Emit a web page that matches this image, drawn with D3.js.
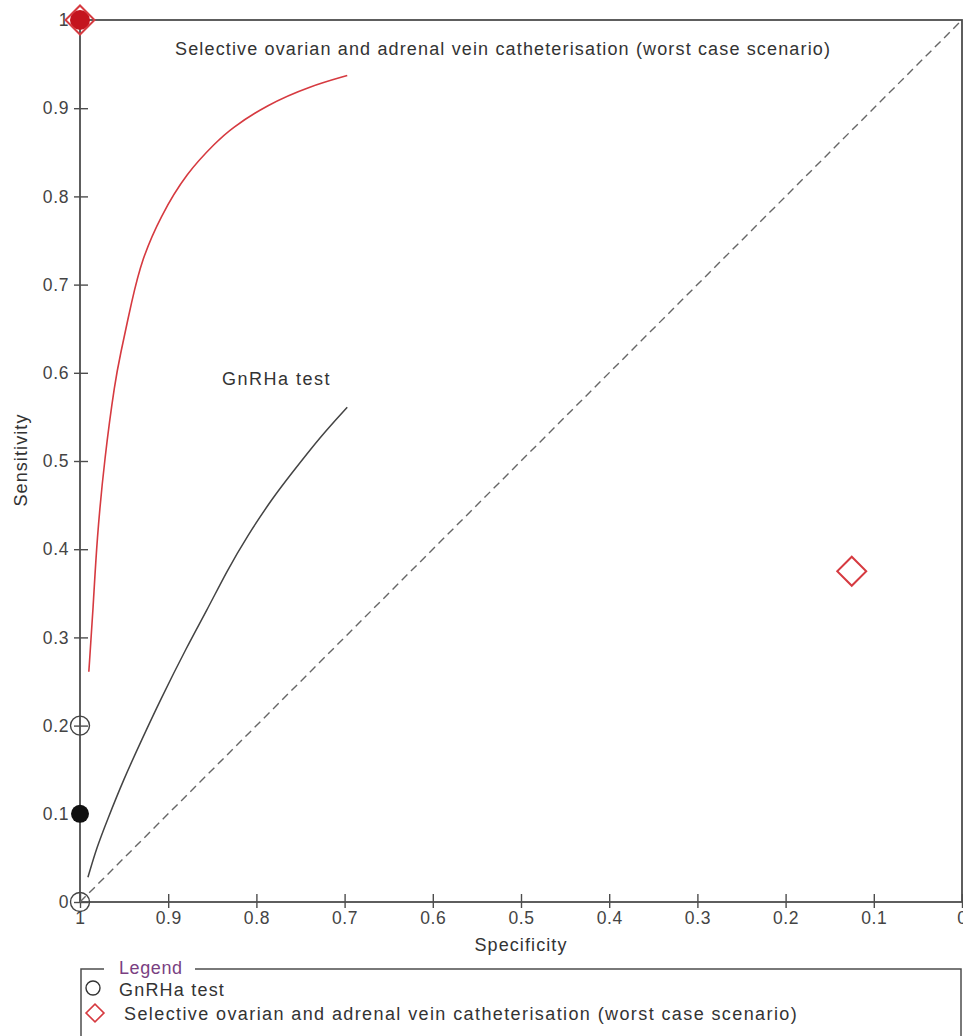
<!DOCTYPE html>
<html>
<head>
<meta charset="utf-8">
<script src="https://cdn.jsdelivr.net/npm/d3@7"></script>
<style>
  body { margin: 0; background: #fff; }
  svg { font-family: "Liberation Sans", Arial, sans-serif; }
</style>
</head>
<body>
<div id="chart"></div>
<script>
// SROC curves (specificity, sensitivity)
const redCurveSpec = [0.990, 0.985, 0.981, 0.972, 0.960, 0.955, 0.941, 0.930, 0.909, 0.879, 0.845, 0.830, 0.788, 0.739, 0.697]
const redCurveSens = [0.261, 0.334, 0.410, 0.505, 0.592, 0.617, 0.683, 0.728, 0.777, 0.827, 0.862, 0.876, 0.904, 0.925, 0.937]
const blackCurveSpec = [0.991, 0.981, 0.969, 0.951, 0.930, 0.909, 0.879, 0.856, 0.833, 0.811, 0.781, 0.760, 0.728, 0.697]
const blackCurveSens = [0.028, 0.062, 0.093, 0.138, 0.184, 0.229, 0.289, 0.331, 0.376, 0.414, 0.459, 0.486, 0.527, 0.561]

// study points
const gnrhaSpec = [1, 1]
const gnrhaSens = [0, 0.2]
const gnrhaSummarySpec = [1]
const gnrhaSummarySens = [0.1]
const svcSpec = [1, 0.125]
const svcSens = [1, 0.375]
const svcSummarySpec = [1]
const svcSummarySens = [1]

const tickValues = [0, 0.1, 0.2, 0.3, 0.4, 0.5, 0.6, 0.7, 0.8, 0.9, 1]
const tickLabels = ['0', '0.1', '0.2', '0.3', '0.4', '0.5', '0.6', '0.7', '0.8', '0.9', '1']

const legendLabels = ['GnRHa test', 'Selective ovarian and adrenal vein catheterisation (worst case scenario)']

const red = '#d63a40'
const axisColor = '#4d4d4d'
const textColor = '#333'

let svg = d3.select('#chart').append('svg')
  .attr('width', 963)
  .attr('height', 1036)

let x = d3.scaleLinear().domain([1, 0]).range([80, 962])
let y = d3.scaleLinear().domain([0, 1]).range([902, 20])

// frame
svg.append('rect')
  .attr('x', x(1)).attr('y', y(1))
  .attr('width', x(0) - x(1)).attr('height', y(0) - y(1))
  .attr('fill', 'none')
  .attr('stroke', axisColor)
  .attr('stroke-width', 1.8)

// y axis
let yAxis = svg.append('g')
  .attr('transform', 'translate(' + x(1) + ',0)')
  .call(d3.axisLeft(y).tickValues(tickValues).tickSize(8).tickPadding(3)
    .tickFormat((d, i) => tickLabels[i]))
yAxis.select('.domain').remove()
yAxis.selectAll('line').attr('stroke', axisColor).attr('stroke-width', 1.4).attr('x2', 8).attr('x1', -6)
yAxis.selectAll('text').attr('font-size', 17.5).attr('letter-spacing', 0.6)
  .attr('fill', '#444').attr('font-family', null)

// x axis
let xAxis = svg.append('g')
  .attr('transform', 'translate(0,' + y(0) + ')')
  .call(d3.axisBottom(x).tickValues(tickValues).tickSize(8).tickPadding(2)
    .tickFormat((d, i) => tickLabels[i]))
xAxis.select('.domain').remove()
xAxis.selectAll('line').attr('stroke', axisColor).attr('stroke-width', 1.4).attr('y1', -8).attr('y2', 6)
xAxis.selectAll('text').attr('font-size', 17.5).attr('letter-spacing', 0.6)
  .attr('fill', '#444').attr('font-family', null)

// chance line
svg.append('line')
  .attr('x1', x(1)).attr('y1', y(0))
  .attr('x2', x(0)).attr('y2', y(1))
  .attr('stroke', '#666')
  .attr('stroke-width', 1.4)
  .attr('stroke-dasharray', '8,5')

let line = d3.line()
  .x(d => x(d[0]))
  .y(d => y(d[1]))
  .curve(d3.curveBasis)

svg.append('path')
  .datum(redCurveSpec.map((s, i) => [s, redCurveSens[i]]))
  .attr('d', line)
  .attr('fill', 'none')
  .attr('stroke', red)
  .attr('stroke-width', 1.6)

svg.append('path')
  .datum(blackCurveSpec.map((s, i) => [s, blackCurveSens[i]]))
  .attr('d', line)
  .attr('fill', 'none')
  .attr('stroke', '#444')
  .attr('stroke-width', 1.5)

// curve labels
svg.append('text')
  .attr('x', 175).attr('y', 55)
  .attr('font-size', 18)
  .attr('letter-spacing', 1.15)
  .attr('fill', textColor)
  .text(legendLabels[1])

svg.append('text')
  .attr('x', 222).attr('y', 385)
  .attr('font-size', 18)
  .attr('letter-spacing', 1.5)
  .attr('fill', textColor)
  .text(legendLabels[0])

// points
let diamond = d3.symbol().type(d3.symbolSquare).size(420)

svg.selectAll('.gnrha')
  .data(gnrhaSpec.map((s, i) => [s, gnrhaSens[i]]))
  .enter()
  .append('circle')
  .attr('class', 'gnrha')
  .attr('cx', d => x(d[0]))
  .attr('cy', d => y(d[1]))
  .attr('r', 9.5)
  .attr('fill', 'none')
  .attr('stroke', '#444')
  .attr('stroke-width', 1.4)

svg.selectAll('.gnrhaSum')
  .data(gnrhaSummarySpec.map((s, i) => [s, gnrhaSummarySens[i]]))
  .enter()
  .append('circle')
  .attr('cx', d => x(d[0]))
  .attr('cy', d => y(d[1]))
  .attr('r', 9)
  .attr('fill', '#111')

svg.selectAll('.svcSum')
  .data(svcSummarySpec.map((s, i) => [s, svcSummarySens[i]]))
  .enter()
  .append('circle')
  .attr('cx', d => x(d[0]))
  .attr('cy', d => y(d[1]))
  .attr('r', 10)
  .attr('fill', '#c4141e')

svg.selectAll('.svc')
  .data(svcSpec.map((s, i) => [s, svcSens[i]]))
  .enter()
  .append('path')
  .attr('d', diamond)
  .attr('transform', d => 'translate(' + x(d[0]) + ',' + y(d[1]) + ') rotate(45)')
  .attr('fill', 'none')
  .attr('stroke', red)
  .attr('stroke-width', 2)

// axis titles
svg.append('text')
  .attr('x', 521).attr('y', 951)
  .attr('text-anchor', 'middle')
  .attr('font-size', 18)
  .attr('letter-spacing', 1.1)
  .attr('fill', textColor)
  .text('Specificity')

svg.append('text')
  .attr('transform', 'translate(27,460) rotate(-90)')
  .attr('text-anchor', 'middle')
  .attr('font-size', 18)
  .attr('letter-spacing', 1.1)
  .attr('fill', textColor)
  .text('Sensitivity')

// legend
let lg = svg.append('g')
lg.append('path')
  .attr('d', 'M104,969 H81 V1040 M195,969 H961 V1040')
  .attr('fill', 'none')
  .attr('stroke', axisColor)
  .attr('stroke-width', 1.5)
lg.append('text')
  .attr('x', 119).attr('y', 974)
  .attr('font-size', 18)
  .attr('letter-spacing', 0.6)
  .attr('fill', '#7a3f82')
  .text('Legend')

lg.append('circle')
  .attr('cx', 93).attr('cy', 988).attr('r', 7)
  .attr('fill', 'none').attr('stroke', '#333').attr('stroke-width', 1.4)
lg.append('text')
  .attr('x', 119).attr('y', 996)
  .attr('font-size', 18).attr('letter-spacing', 1.2).attr('fill', textColor)
  .text(legendLabels[0])

lg.append('path')
  .attr('d', d3.symbol().type(d3.symbolSquare).size(160))
  .attr('transform', 'translate(95,1013) rotate(45)')
  .attr('fill', 'none').attr('stroke', red).attr('stroke-width', 1.6)
lg.append('text')
  .attr('x', 124).attr('y', 1020)
  .attr('font-size', 18).attr('letter-spacing', 1.4).attr('fill', textColor)
  .text(legendLabels[1])
</script>
</body>
</html>
